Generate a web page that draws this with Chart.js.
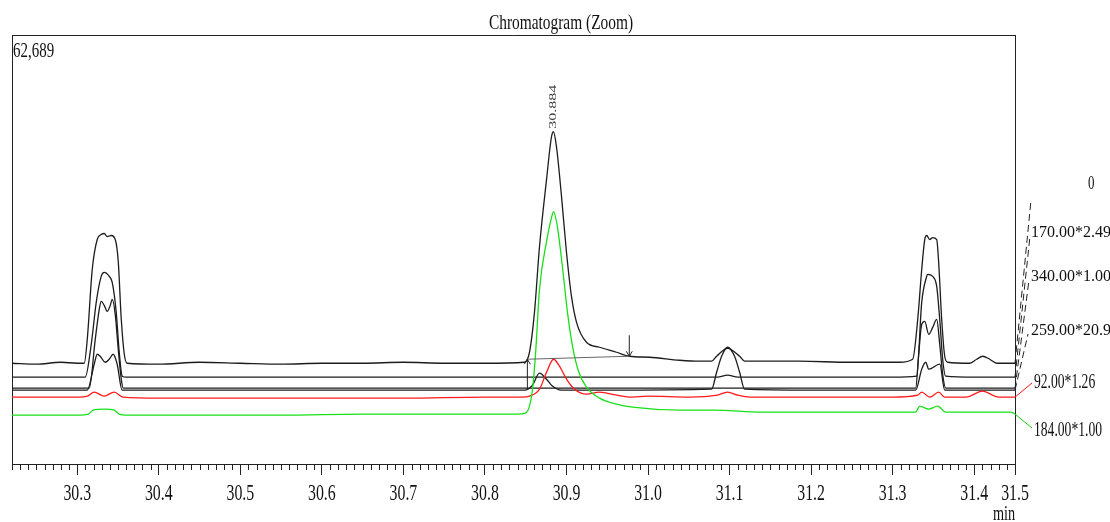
<!DOCTYPE html>
<html>
<head>
<meta charset="utf-8">
<title>Chromatogram (Zoom)</title>
<script src="https://cdn.jsdelivr.net/npm/chart.js@4.4.0/dist/chart.umd.min.js"></script>
<style>
  html, body { margin: 0; padding: 0; background: #fff; }
  #wrap { width: 1110px; height: 522px; position: relative; }
</style>
</head>
<body>
<div id="wrap"><canvas id="chromChart"></canvas></div>
<script>
// retention window (min) and full-scale intensity
const fullScale = 62689;
const xMin = 30.22;
const xMax = 31.45;

const majorTicks = [30.3, 30.4, 30.5, 30.6, 30.7, 30.8, 30.9, 31.0, 31.1, 31.2, 31.3, 31.4, 31.45];
const majorLabels = ['30.3', '30.4', '30.5', '30.6', '30.7', '30.8', '30.9', '31.0', '31.1', '31.2', '31.3', '31.4', '31.5'];

// TIC
const ticTime = [30.22, 30.25, 30.28, 30.30, 30.3086, 30.3123, 30.3184, 30.3245, 30.3294, 30.3331, 30.3368, 30.3417, 30.3466, 30.3503, 30.354, 30.3577, 30.3613,
  30.40, 30.45, 30.50, 30.55, 30.60, 30.65, 30.70, 30.75, 30.80, 30.8485, 30.8546, 30.8607, 30.8669, 30.8755, 30.8816, 30.884, 30.8877, 30.8939, 30.90,
  30.9061, 30.9123, 30.9245, 30.9405, 30.9613, 30.9773, 31.0018, 31.0387, 31.0632, 31.0779, 31.0841, 31.0975, 31.1123, 31.1184, 31.1368, 31.1859, 31.2472,
  31.3086, 31.3245, 31.3307, 31.3356, 31.3393, 31.3417, 31.3454, 31.3491, 31.354, 31.3564, 31.3601, 31.3638, 31.3675, 31.3945, 31.403, 31.4104, 31.419, 31.4276, 31.45];
const ticValue = [14725, 14580, 14870, 14725, 14725, 18220, 28430, 32800, 33530, 33680, 33240, 33390, 32800, 29600, 21140, 16040, 14725,
  14580, 14870, 14725, 14580, 14725, 14725, 14870, 14725, 14725, 14870, 16330, 22160, 31780, 41550, 47820, 48550, 46360, 39070, 30910,
  24490, 20700, 17790, 17060, 16330, 15745, 15600, 15160, 15020, 15020, 15745, 16910, 15745, 15020, 15020, 15020, 14870,
  14870, 15310, 21140, 28430, 32800, 33390, 32800, 33090, 32800, 29450, 21140, 15745, 14870, 14725, 15310, 15745, 15310, 14725, 14725];

// m/z 170
const mz170Time = [30.22, 30.26, 30.30, 30.3098, 30.3172, 30.3233, 30.3294, 30.3331, 30.3393, 30.3429, 30.3478, 30.3515, 30.3552, 30.36,
  30.45, 30.55, 30.65, 30.75, 30.85, 30.95, 31.05, 31.085, 31.0975, 31.11, 31.2, 31.3,
  31.3294, 31.3356, 31.3417, 31.343, 31.3491, 31.354, 31.3577, 31.3613, 31.365, 31.40, 31.45];
const mz170Value = [12684, 12684, 12684, 12684, 17500, 23620, 27410, 27990, 27410, 26530, 22160, 16330, 12830, 12684,
  12684, 12684, 12684, 12684, 12684, 12684, 12684, 12684, 12975, 12684, 12684, 12684,
  12830, 23620, 27410, 27700, 27410, 25950, 21140, 15310, 12830, 12684, 12684];

// m/z 340
const mz340Time = [30.22, 30.27, 30.3147, 30.3221, 30.327, 30.3294, 30.3331, 30.3368, 30.3405, 30.3429, 30.3466, 30.3503, 30.354, 30.3564,
  30.45, 30.6, 30.75, 30.85, 30.95, 31.1, 31.25, 31.3282, 31.3319, 31.3356, 31.3393, 31.3442, 31.3491, 31.354, 31.3577, 31.3613, 31.365, 31.45];
const mz340Value = [11080, 11080, 11080, 18220, 22600, 23760, 23180, 22310, 23180, 24060, 21870, 16770, 12390, 11080,
  11080, 11080, 11080, 11080, 11080, 11080, 11080, 11080, 16040, 20410, 20850, 18950, 19970, 21140, 17500, 13120, 11080, 11080];

// m/z 259
const mz259Time = [30.22, 30.28, 30.3123, 30.3208, 30.3245, 30.3282, 30.3343, 30.3392, 30.3441, 30.349, 30.355, 30.45, 30.6, 30.75,
  30.8485, 30.8583, 30.8669, 30.8755, 30.8816, 30.8939, 30.95, 31.0779, 31.0841, 31.0902, 31.0975, 31.1061, 31.1123, 31.1184, 31.2,
  31.3282, 31.3356, 31.3405, 31.3442, 31.3577, 31.3638, 31.45];
const mz259Value = [10790, 10790, 10790, 14580, 16040, 15745, 14870, 15310, 16040, 14580, 10790, 10790, 10790, 10790,
  10790, 11520, 13270, 12390, 11520, 10790, 10790, 10930, 13410, 15745, 17060, 15745, 13410, 10930, 10790,
  10790, 13850, 14870, 13850, 14580, 10790, 10790];

// m/z 92
const mz92Time = [30.22, 30.30, 30.3123, 30.3208, 30.3331, 30.3453, 30.3564, 30.40, 30.50, 30.60, 30.70, 30.80, 30.845, 30.8546, 30.8669,
  30.8755, 30.8841, 30.8914, 30.90, 30.9098, 30.9245, 30.9405, 30.9613, 30.98, 31.00, 31.05, 31.085, 31.0975, 31.11, 31.125, 31.20,
  31.30, 31.3307, 31.3356, 31.3454, 31.3564, 31.3638, 31.39, 31.41, 31.43, 31.45];
const mz92Value = [9770, 9770, 9910, 10500, 9910, 10500, 9770, 9620, 9620, 9620, 9620, 9770, 9770, 9910, 10930,
  13410, 15310, 14290, 12390, 10930, 10210, 10500, 10060, 9770, 9910, 9770, 10060, 10500, 10060, 9770, 9770,
  9770, 10060, 10500, 9770, 10500, 9770, 9770, 10640, 9770, 9770];

// m/z 184
const mz184Time = [30.22, 30.30, 30.3135, 30.3196, 30.3331, 30.3453, 30.3515, 30.36, 30.45, 30.55, 30.65, 30.75, 30.84, 30.8497, 30.8546,
  30.8583, 30.862, 30.8669, 30.8755, 30.8816, 30.8841, 30.889, 30.8951, 30.9012, 30.9074, 30.9147, 30.9245, 30.9405, 30.9613, 30.9809,
  31.04, 31.08, 31.14, 31.25, 31.3282, 31.3331, 31.3442, 31.3552, 31.365, 31.4448, 31.45];
const mz184Value = [7140, 7140, 7290, 7870, 8020, 7870, 7290, 7140, 7140, 7140, 7290, 7290, 7290, 7440, 8460,
  10930, 16040, 25510, 32510, 36010, 36890, 34550, 28720, 22160, 17200, 13560, 11230, 9620, 8750, 8310,
  7870, 7870, 7580, 7580, 7580, 8460, 8020, 8460, 7580, 7580, 7290];

const SQUEEZE = 0.68;

function pts(times, values) {
  return times.map((t, i) => ({ x: t, y: values[i] }));
}

function drawText(ctx, text, x, y, size, align, sx, color) {
  ctx.save();
  ctx.font = size + 'px "Liberation Serif", "Times New Roman", serif';
  ctx.fillStyle = color || '#111';
  ctx.textAlign = align;
  ctx.textBaseline = 'alphabetic';
  ctx.translate(x, y);
  ctx.scale(sx, 1);
  ctx.fillText(text, 0, 0);
  ctx.restore();
}

function seg(ctx, x1, y1, x2, y2) {
  ctx.beginPath();
  ctx.moveTo(x1, y1);
  ctx.lineTo(x2, y2);
  ctx.stroke();
}

// frame, minor ticks, text, peak marks and trace labels
const chromDecor = {
  id: 'chromDecor',
  afterDatasetsDraw(chart) {
    const { ctx, scales: { x, y } } = chart;
    ctx.save();
    ctx.lineWidth = 1;
    ctx.strokeStyle = '#666';
    // integration baseline of the 30.884 peak
    const bx1 = x.getPixelForValue(30.852), by1 = y.getPixelForValue(15310);
    const bx2 = x.getPixelForValue(30.977), by2 = y.getPixelForValue(15745);
    seg(ctx, bx1, by1, bx2, by2);
    ctx.strokeStyle = '#222';
    // start marker (arrow up)
    const sy = y.getPixelForValue(10930);
    seg(ctx, bx1, sy, bx1, by1);
    seg(ctx, bx1 - 3, by1 + 5, bx1, by1);
    seg(ctx, bx1 + 3, by1 + 5, bx1, by1);
    // end marker (arrow down)
    const ey = y.getPixelForValue(18810);
    seg(ctx, bx2, ey, bx2, by2);
    seg(ctx, bx2 - 3, by2 - 5, bx2, by2);
    seg(ctx, bx2 + 3, by2 - 5, bx2, by2);
    ctx.restore();
  },
  afterDraw(chart) {
    const { ctx, chartArea: a, scales: { x, y } } = chart;
    ctx.save();
    ctx.strokeStyle = '#222';
    ctx.lineWidth = 1;
    // top and right edges of the frame
    seg(ctx, a.left, a.top + 0.5, a.right, a.top + 0.5);
    seg(ctx, a.right + 0.5, a.top, a.right + 0.5, a.bottom);
    // minor ticks every 0.01 min
    for (let i = 0; i <= 123; i++) {
      const t = xMin + i * 0.01;
      if (Math.abs(t * 10 - Math.round(t * 10)) < 1e-6) continue;
      const px = Math.round(x.getPixelForValue(t)) + 0.5;
      seg(ctx, px, a.bottom, px, a.bottom + 6);
    }
    ctx.restore();

    drawText(ctx, 'Chromatogram (Zoom)', 561, 29, 22, 'center', 0.70);
    drawText(ctx, fullScale.toLocaleString('en-US'), a.left + 1, 57, 22, 'left', SQUEEZE);

    majorTicks.forEach((v, i) => {
      drawText(ctx, majorLabels[i], x.getPixelForValue(v), 500, 24, 'center', 0.66);
    });
    drawText(ctx, 'min', 1004, 520, 21, 'center', SQUEEZE);

    // apex retention time
    const apexT = ticTime[ticValue.indexOf(Math.max(...ticValue))];
    ctx.save();
    ctx.font = '16px "Liberation Serif", serif';
    ctx.fillStyle = '#444';
    ctx.textBaseline = 'middle';
    ctx.textAlign = 'left';
    ctx.translate(x.getPixelForValue(apexT), y.getPixelForValue(Math.max(...ticValue)) - 3);
    ctx.scale(SQUEEZE, 1);
    ctx.rotate(-Math.PI / 2);
    ctx.fillText(apexT.toFixed(3), 0, 0);
    ctx.restore();

    // trace labels on the right
    const xe = x.getPixelForValue(xMax);
    const labels = [
      { text: '0', v: ticValue[ticValue.length - 1], lx: 1031, ly: 200, tx: 1088, ty: 189, size: 19, sx: SQUEEZE, color: '#222', dash: [7, 4] },
      { text: '170.00*2.49', v: mz170Value[mz170Value.length - 1], lx: 1030, ly: 236, tx: 1031, ty: 237, size: 16, sx: 1, color: '#222', dash: [7, 4] },
      { text: '340.00*1.00', v: mz340Value[mz340Value.length - 1], lx: 1029, ly: 280, tx: 1031, ty: 281, size: 16, sx: 1, color: '#222', dash: [7, 4] },
      { text: '259.00*20.9', v: mz259Value[mz259Value.length - 1], lx: 1028, ly: 334, tx: 1031, ty: 335, size: 16, sx: 1, color: '#222', dash: [7, 4] },
      { text: '92.00*1.26', v: mz92Value[mz92Value.length - 1], lx: 1032, ly: 383, tx: 1034, ty: 388, size: 20, sx: SQUEEZE, color: '#ff1010', dash: [] },
      { text: '184.00*1.00', v: mz184Value[mz184Value.length - 1], lx: 1032, ly: 428, tx: 1034, ty: 436, size: 20, sx: SQUEEZE, color: '#10d010', dash: [] }
    ];
    labels.forEach(l => {
      ctx.save();
      ctx.strokeStyle = l.color;
      ctx.lineWidth = 1;
      ctx.setLineDash(l.dash);
      seg(ctx, xe, y.getPixelForValue(l.v), l.lx, l.ly);
      ctx.restore();
      drawText(ctx, l.text, l.tx, l.ty, l.size, 'left', l.sx, '#111');
    });
  }
};

const black = '#1c1c1c';
const lineStyle = { pointRadius: 0, borderWidth: 1.3, cubicInterpolationMode: 'monotone', fill: false };

new Chart(document.getElementById('chromChart'), {
  type: 'line',
  data: {
    datasets: [
      { label: '184.00*1.00', data: pts(mz184Time, mz184Value), borderColor: '#18e018', ...lineStyle },
      { label: '92.00*1.26', data: pts(mz92Time, mz92Value), borderColor: '#ff1a1a', ...lineStyle },
      { label: '0', data: pts(ticTime, ticValue), borderColor: black, ...lineStyle },
      { label: '170.00*2.49', data: pts(mz170Time, mz170Value), borderColor: black, ...lineStyle },
      { label: '340.00*1.00', data: pts(mz340Time, mz340Value), borderColor: black, ...lineStyle },
      { label: '259.00*20.9', data: pts(mz259Time, mz259Value), borderColor: black, ...lineStyle }
    ]
  },
  options: {
    responsive: true,
    maintainAspectRatio: false,
    animation: false,
    layout: { padding: { left: 12, top: 35, right: 95, bottom: 47 } },
    plugins: {
      legend: { display: false },
      title: { display: false },
      tooltip: { enabled: false }
    },
    scales: {
      x: {
        type: 'linear',
        min: xMin,
        max: xMax,
        afterBuildTicks: scale => { scale.ticks = majorTicks.map(v => ({ value: v })); },
        ticks: { display: false },
        grid: { drawOnChartArea: false, drawTicks: true, tickLength: 11, tickColor: '#222', tickWidth: 1 },
        border: { display: true, color: '#222', width: 1 }
      },
      y: {
        min: 0,
        max: fullScale,
        ticks: { display: false },
        grid: { display: false, drawTicks: false },
        border: { display: true, color: '#222', width: 1 }
      }
    }
  },
  plugins: [chromDecor]
});
</script>
</body>
</html>
